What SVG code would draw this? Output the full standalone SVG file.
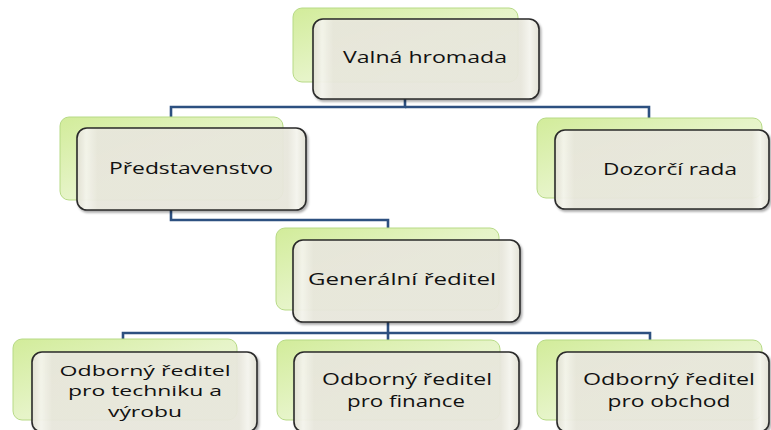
<svg xmlns="http://www.w3.org/2000/svg" width="771" height="430" viewBox="0 0 771 430">
<defs>
<linearGradient id="gGreen" x1="0" y1="0" x2="1" y2="1">
<stop offset="0" stop-color="#d2ec9a"/>
<stop offset="0.5" stop-color="#e6f4c8"/>
<stop offset="1" stop-color="#f3f9e6"/>
</linearGradient>
<linearGradient id="gFront" x1="0" y1="0" x2="1" y2="0">
<stop offset="0" stop-color="#e4e3d6"/>
<stop offset="0.04" stop-color="#f6f6ee"/>
<stop offset="0.09" stop-color="#eae9de"/>
<stop offset="0.92" stop-color="#eae9de"/>
<stop offset="0.96" stop-color="#f7f7f0"/>
<stop offset="1" stop-color="#e4e3d6"/>
</linearGradient>
<filter id="sh" x="-10%" y="-10%" width="130%" height="130%">
<feDropShadow dx="1.5" dy="2" stdDeviation="1.2" flood-color="#000" flood-opacity="0.35"/>
</filter>
</defs>
<style>
.back{fill:url(#gGreen);stroke:#b7da86;stroke-width:1}
.front{fill:url(#gFront);fill-opacity:0.93;stroke:#2a2a2a;stroke-width:1.6;filter:url(#sh)}
.conn{fill:none;stroke:#2d5080;stroke-width:2.6}
.t{font-family:"Open Sans","DejaVu Sans",sans-serif;font-size:15.5px;fill:#111;text-anchor:middle}
.s{font-size:14px}
</style>
<g id="connectors">
<path class="conn" d="M405 99 V107 H171 V117"/>
<path class="conn" d="M405 107 H649 V118"/>
<path class="conn" d="M171 210 V220 H388 V228"/>
<path class="conn" d="M388 322 V333 H123 V339"/>
<path class="conn" d="M388 333 H650 V340"/>
<path class="conn" d="M388 333 V340"/>
</g>
<g id="valna-hromada">
<rect class="back" x="293" y="8" width="225" height="74" rx="9"/>
<rect class="front" x="313" y="19" width="226" height="80" rx="10"/>
<text class="t" x="425" y="63" textLength="164" lengthAdjust="spacingAndGlyphs">Valná hromada</text>
</g>
<g id="predstavenstvo">
<rect class="back" x="60" y="117" width="223" height="83" rx="9"/>
<rect class="front" x="77" y="128" width="229" height="82" rx="10"/>
<text class="t" x="191" y="174" textLength="164" lengthAdjust="spacingAndGlyphs">Představenstvo</text>
</g>
<g id="dozorci-rada">
<rect class="back" x="537" y="118" width="225" height="80" rx="9"/>
<rect class="front" x="555" y="130" width="214" height="79" rx="10"/>
<text class="t" x="670" y="175" textLength="134" lengthAdjust="spacingAndGlyphs">Dozorčí rada</text>
</g>
<g id="generalni-reditel">
<rect class="back" x="276" y="228" width="223" height="82" rx="9"/>
<rect class="front" x="293" y="240" width="227" height="82" rx="10"/>
<text class="t" x="402" y="285" textLength="188" lengthAdjust="spacingAndGlyphs">Generální ředitel</text>
</g>
<g id="reditel-technika">
<rect class="back" x="13" y="339" width="224" height="81" rx="9"/>
<rect class="front" x="32" y="352" width="225" height="80" rx="10"/>
<text class="t s" x="145" y="376" textLength="171" lengthAdjust="spacingAndGlyphs">Odborný ředitel</text>
<text class="t s" x="145" y="396" textLength="154" lengthAdjust="spacingAndGlyphs">pro techniku a</text>
<text class="t s" x="145" y="417" textLength="74" lengthAdjust="spacingAndGlyphs">výrobu</text>
</g>
<g id="reditel-finance">
<rect class="back" x="277" y="340" width="223" height="80" rx="9"/>
<rect class="front" x="294" y="352" width="225" height="80" rx="10"/>
<text class="t" x="407" y="385" textLength="170" lengthAdjust="spacingAndGlyphs">Odborný ředitel</text>
<text class="t" x="406" y="407" textLength="118" lengthAdjust="spacingAndGlyphs">pro finance</text>
</g>
<g id="reditel-obchod">
<rect class="back" x="537" y="340" width="225" height="80" rx="9"/>
<rect class="front" x="557" y="352" width="212" height="80" rx="10"/>
<text class="t" x="669" y="385" textLength="172" lengthAdjust="spacingAndGlyphs">Odborný ředitel</text>
<text class="t" x="669" y="407" textLength="123" lengthAdjust="spacingAndGlyphs">pro obchod</text>
</g>
</svg>
